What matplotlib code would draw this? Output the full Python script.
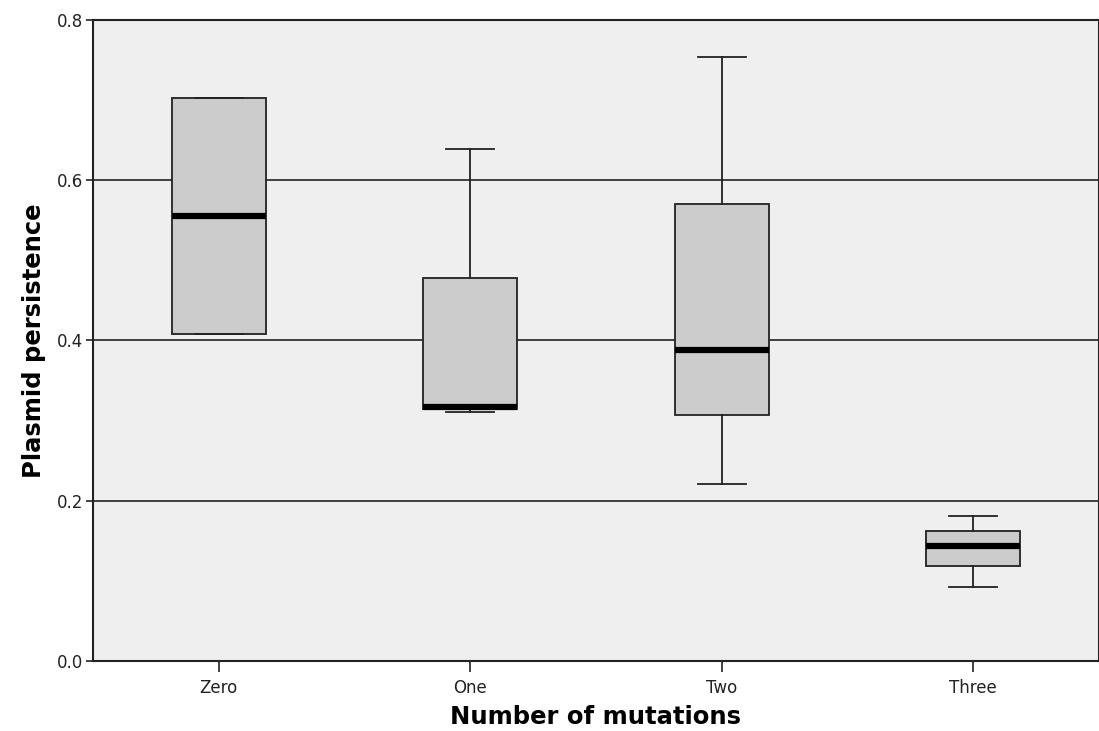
import matplotlib.pyplot as plt

# box summaries per group (read as five-number summaries)
groups = ['Zero', 'One', 'Two', 'Three']
whislo = [0.408, 0.311, 0.221, 0.092]
q1 = [0.408, 0.314, 0.307, 0.119]
med = [0.556, 0.317, 0.388, 0.144]
q3 = [0.703, 0.478, 0.570, 0.162]
whishi = [0.703, 0.639, 0.754, 0.181]

stats = []
for i, name in enumerate(groups):
    stats.append({'label': name, 'whislo': whislo[i], 'q1': q1[i], 'med': med[i],
                  'q3': q3[i], 'whishi': whishi[i], 'fliers': []})

fig = plt.figure(figsize=(10.99, 7.31), dpi=100)
ax = fig.add_axes([0.0846, 0.0958, 0.9154, 0.8768])
ax.set_facecolor('#efefef')

for y in [0.2, 0.4, 0.6]:
    ax.axhline(y, color='#222222', lw=1.2, zorder=1)

ax.bxp(stats, positions=range(len(groups)), widths=0.375, patch_artist=True,
       showfliers=False, showcaps=True,
       boxprops=dict(facecolor='#cccccc', edgecolor='#222222', lw=1.3),
       medianprops=dict(color='black', lw=4.5, solid_capstyle='butt'),
       whiskerprops=dict(color='#222222', lw=1.3),
       capprops=dict(color='#222222', lw=1.3),
       capwidths=0.19, zorder=3)

ax.set_xlim(-0.5, 3.5)
ax.set_ylim(0, 0.8)
ax.set_yticks([0.0, 0.2, 0.4, 0.6, 0.8])
ax.set_yticklabels(['0.0', '0.2', '0.4', '0.6', '0.8'])
ax.set_xticks(range(len(groups)))
ax.set_xticklabels(groups)
ax.tick_params(axis='y', length=5, width=1.2, labelsize=12, colors='#222222', pad=2)
ax.tick_params(axis='x', length=8, width=1.2, labelsize=12, colors='#222222', pad=5)
for s in ax.spines.values():
    s.set_color('#222222')
    s.set_linewidth(1.5)

ax.set_xlabel('Number of mutations', fontsize=17.5, fontweight='bold', labelpad=6)
ax.set_ylabel('Plasmid persistence', fontsize=17.5, fontweight='bold', labelpad=8)

fig.savefig('out.png', dpi=100)
